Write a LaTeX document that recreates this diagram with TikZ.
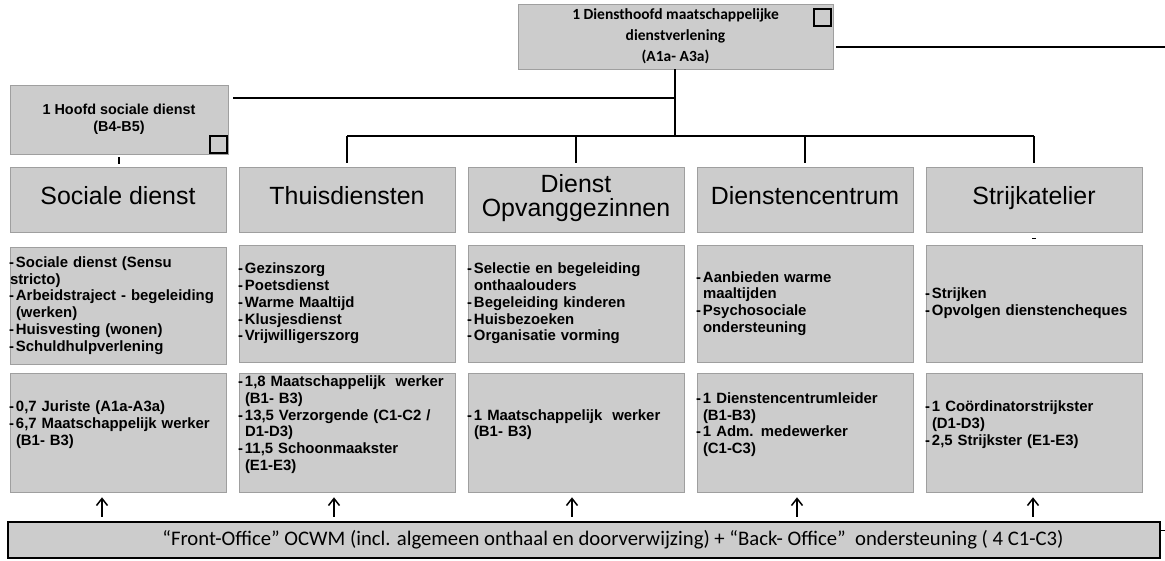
\documentclass[tikz,border=0pt]{standalone}
\usepackage{fontspec}
\setmainfont{Liberation Sans}
\newfontfamily\calibri{Carlito}
\usetikzlibrary{calc,arrows.meta}

\def\hsep{229}
\def\xa{118}
\newcommand\itm{\makebox[6pt][l]{\hspace{-1pt}-}}
\newcommand\ind{\hspace*{6pt}}
\newcommand\ruimte{\endgraf\vspace*{16pt}}

\begin{document}
\begin{tikzpicture}[x=1pt,y=-1pt,
    vak/.style={draw=gray!75,line width=0.6pt,fill=gray!40,inner sep=0pt,minimum width=216pt},
    titel/.style={vak,minimum height=65pt,align=center,font=\fontsize{24.9}{24}\selectfont,execute at begin node=\strut},
    taken/.style={vak,minimum height=117pt,text width=216pt,align=left,font=\bfseries\fontsize{14.9}{16.7}\selectfont},
    mensen/.style={taken,minimum height=119pt,execute at end node=\ruimte},
    hokje/.style={draw=black,line width=2pt,fill=gray!40,inner sep=0pt,minimum size=17pt},
    lijn/.style={line width=2.2pt},
    pijl/.style={-{Straight Barb[length=7pt,width=11pt]},line width=1.5pt}]

    \useasboundingbox (0,0) rectangle (1165,560);

    \node[vak,minimum width=315pt,minimum height=65pt,align=center,font=\calibri\bfseries\fontsize{15.5}{21}\selectfont] (diensthoofd) at (675.5,36.5) {1 Diensthoofd maatschappelijke\\dienstverlening\\(A1a- A3a)};
    \node[hokje,anchor=north east] (diensthoofd-vak) at ([xshift=-1pt,yshift=-4pt]diensthoofd.north east) {};

    \node[vak,minimum width=218pt,minimum height=69pt,align=center,font=\bfseries\fontsize{14.4}{17}\selectfont] (hoofdsd) at (119,119.5) {1 Hoofd sociale dienst\\(B4-B5)};
    \node[hokje,anchor=south east] (hoofdsd-vak) at (hoofdsd.south east) {};

    \node[titel] (sociaal) at (\xa,199.5) {Sociale dienst};
    \node[titel] (thuis) at (\xa+\hsep,199.5) {Thuisdiensten};
    \node[titel] (opvang) at (\xa+2*\hsep,199.5) {Dienst\\Opvanggezinnen};
    \node[titel] (dcentrum) at (\xa+3*\hsep,199.5) {Dienstencentrum};
    \node[titel] (strijk) at (\xa+4*\hsep,199.5) {Strijkatelier};

    \node[taken] (sociaal-taak) at (\xa,305.5) {\itm Sociale dienst (Sensu\\stricto)\\\itm Arbeidstraject - begeleiding\\\ind(werken)\\\itm Huisvesting (wonen)\\\itm Schuldhulpverlening};
    \node[taken] (thuis-taak) at (\xa+\hsep,303.5) {\itm Gezinszorg\\\itm Poetsdienst\\\itm Warme Maaltijd\\\itm Klusjesdienst\\\itm Vrijwilligerszorg};
    \node[taken] (opvang-taak) at (\xa+2*\hsep,303.5) {\itm Selectie en begeleiding\\\ind onthaalouders\\\itm Begeleiding kinderen\\\itm Huisbezoeken\\\itm Organisatie vorming};
    \node[taken] (dcentrum-taak) at (\xa+3*\hsep,303.5) {\itm Aanbieden warme\\\ind maaltijden\\\itm Psychosociale\\\ind ondersteuning};
    \node[taken] (strijk-taak) at (\xa+4*\hsep,303.5) {\itm Strijken\\\itm Opvolgen dienstencheques};

    \node[mensen] (sociaal-pers) at (\xa,432.5) {\itm 0,7 Juriste (A1a-A3a)\\\itm 6,7 Maatschappelijk werker\\\ind(B1- B3)};
    \node[mensen] (thuis-pers) at (\xa+\hsep,432.5) {\itm 1,8 Maatschappelijk\ \ werker\\\ind(B1- B3)\\\itm 13,5 Verzorgende (C1-C2 /\\\ind D1-D3)\\\itm 11,5 Schoonmaakster\\\ind(E1-E3)};
    \node[mensen] (opvang-pers) at (\xa+2*\hsep,432.5) {\itm 1 Maatschappelijk\ \ werker\\\ind(B1- B3)};
    \node[mensen] (dcentrum-pers) at (\xa+3*\hsep,432.5) {\itm 1 Dienstencentrumleider\\\ind(B1-B3)\\\itm 1 Adm. medewerker\\\ind(C1-C3)};
    \node[mensen] (strijk-pers) at (\xa+4*\hsep,432.5) {\itm 1 Coördinatorstrijkster\\\ind(D1-D3)\\\itm 2,5 Strijkster (E1-E3)};

    \node[vak,draw=black,line width=2.5pt,minimum width=1152pt,minimum height=36pt,font=\calibri\fontsize{20.7}{22}\selectfont] (frontoffice) at (584,540) {\hspace*{58pt}“Front-Office” OCWM (incl. algemeen onthaal en doorverwijzing) + “Back- Office”\ \ ondersteuning ( 4 C1-C3)};

    \coordinate (rand) at (1165,47);
    \coordinate (tak) at (675,98);
    \coordinate (bus) at (675,136);

    \draw[lijn] ([xshift=3pt]diensthoofd.east |- rand) -- (rand);
    \draw[lijn] (diensthoofd.south -| tak) -- (bus);
    \draw[lijn] (tak) -- ([xshift=5pt]hoofdsd.east |- tak);
    \draw[lijn] ($(hoofdsd.south)+(0,3)$) -- ($(hoofdsd.south |- sociaal.north)+(0,-3)$);
    \draw[line width=2pt] (thuis.north |- bus) -- (strijk.north |- bus);
    \foreach \n in {thuis,opvang,dcentrum,strijk}
        \draw[lijn] (\n.north |- bus) -- ([yshift=4pt]\n.north);
    \draw[line width=1pt] ($(strijk.south)+(-2,6)$) -- ++(4,0);

    \foreach \n/\dx in {sociaal-pers/-16,thuis-pers/-13,opvang-pers/-4,dcentrum-pers/-8,strijk-pers/-1}
        \draw[pijl] ($(\n.south |- frontoffice.north)+(\dx,-4)$) -- ($(\n.south)+(\dx,5)$);
    \draw[line width=1pt] ($(frontoffice.north east)+(0,10)$) -- ++(6,0);

\end{tikzpicture}
\end{document}
